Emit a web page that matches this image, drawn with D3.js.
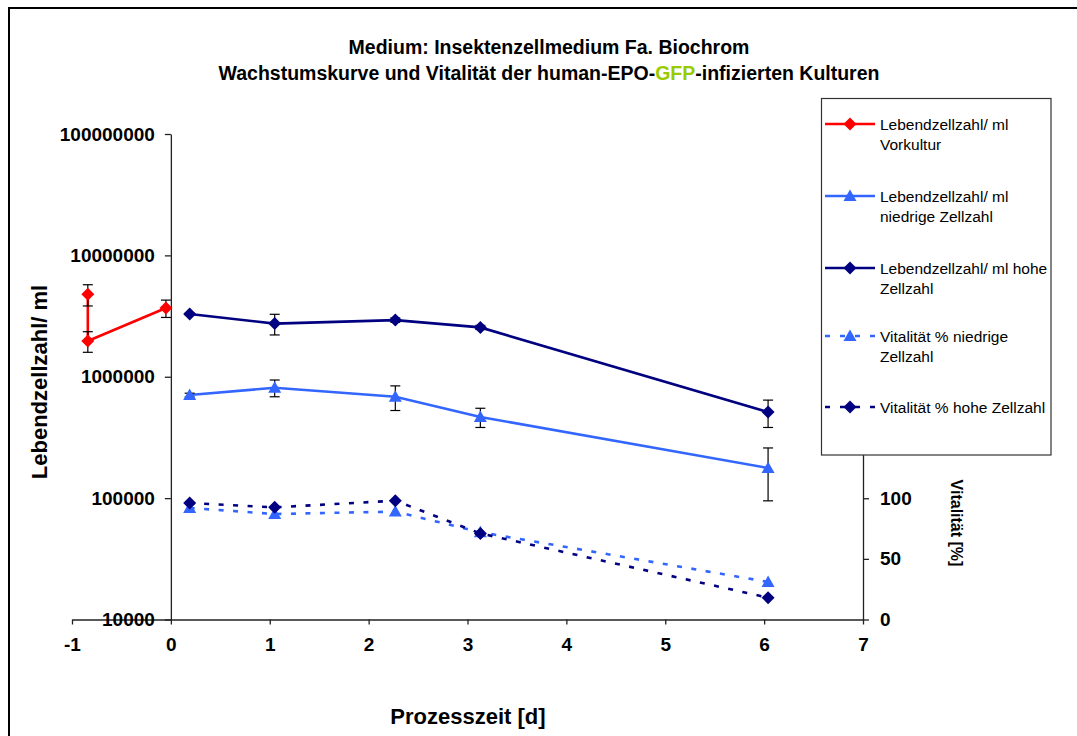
<!DOCTYPE html>
<html>
<head>
<meta charset="utf-8">
<script src="https://d3js.org/d3.v7.min.js"></script>
<style>
  body { margin: 0; background: #fff; }
  text { font-family: "Liberation Sans", Arial, sans-serif; }
</style>
</head>
<body>
<svg id="chart" width="1077" height="736"></svg>
<script>
  // data
  var vorkulturTage = [-0.84, -0.84, -0.05];
  var vorkulturZellen = [4.78e6, 1.97e6, 3.68e6];
  var vorkulturFehler = [0.95e6, 0.38e6, 0.6e6];

  var tage = [0.19, 1.05, 2.27, 3.13, 6.04];
  var niedrigeZellen = [7.07e5, 8.12e5, 6.84e5, 4.66e5, 1.77e5];
  var niedrigeFehler = [0.25e5, 1.28e5, 1.57e5, 0.84e5, 0.82e5];
  var hoheZellen = [3.29e6, 2.74e6, 2.93e6, 2.55e6, 5.12e5];
  var hoheFehler = [0.05e6, 0.53e6, 0.12e6, 0.1e6, 1.3e5];
  var vitalNiedrig = [92, 87, 89, 72, 31];
  var vitalHoch = [96, 92.5, 98, 71, 18];

  var xTicks = [-1, 0, 1, 2, 3, 4, 5, 6, 7];
  var yTicks = [1e4, 1e5, 1e6, 1e7, 1e8];
  var y2Ticks = [0, 50, 100, 150, 200, 250, 300, 350, 400];
  var y2Labelled = [0, 50, 100]; // the rest sit behind the legend

  var legendLabels = [
    ["Lebendzellzahl/ ml", "Vorkultur"],
    ["Lebendzellzahl/ ml", "niedrige Zellzahl"],
    ["Lebendzellzahl/ ml hohe", "Zellzahl"],
    ["Vitalität % niedrige", "Zellzahl"],
    ["Vitalität % hohe Zellzahl"]
  ];

  var RED = "#ff0000", BLUE = "#3366ff", NAVY = "#000080";

  var svg = d3.select("#chart");

  var x = d3.scaleLinear().domain([-1, 7]).range([72, 863]);
  var y = d3.scaleLog().domain([1e4, 1e8]).range([619.5, 134]);
  var y2 = d3.scaleLinear().domain([0, 400]).range([619.5, 134.5]);

  // outer chart border (left and top only visible)
  svg.append("path")
    .attr("d", "M9,736 L9,8 L1077,8")
    .attr("fill", "none").attr("stroke", "#000").attr("stroke-width", 2);

  // title
  svg.append("text")
    .attr("x", 549).attr("y", 54)
    .attr("text-anchor", "middle")
    .attr("font-weight", "bold").attr("font-size", 19.5)
    .text("Medium: Insektenzellmedium Fa. Biochrom");
  var t2 = svg.append("text")
    .attr("x", 549).attr("y", 80)
    .attr("text-anchor", "middle")
    .attr("font-weight", "bold").attr("font-size", 19.5);
  t2.append("tspan").text("Wachstumskurve und Vitalität der human-EPO-");
  t2.append("tspan").attr("fill", "#99cc00").text("GFP");
  t2.append("tspan").text("-infizierten Kulturen");

  // axes
  var axisStyle = function(g) {
    g.select(".domain").attr("stroke", "#222").attr("stroke-width", 1.3);
    g.selectAll(".tick line").attr("stroke", "#222").attr("stroke-width", 1.3);
    g.selectAll(".tick text")
      .attr("font-family", "'Liberation Sans', Arial, sans-serif")
      .attr("font-weight", "bold")
      .attr("font-size", 19)
      .attr("fill", "#000");
  };
  var plain = function(d) { return String(d); };

  svg.append("g")
    .attr("transform", "translate(0," + y(1e4) + ")")
    .call(d3.axisBottom(x).tickValues(xTicks).tickSize(5).tickPadding(13).tickSizeOuter(0)
      .tickFormat(plain))
    .call(axisStyle);

  svg.append("g")
    .attr("transform", "translate(" + x(0) + ",0)")
    .call(d3.axisLeft(y).tickValues(yTicks).tickSize(6).tickPadding(10).tickSizeOuter(0)
      .tickFormat(plain))
    .call(axisStyle);

  svg.append("g")
    .attr("transform", "translate(" + x(7) + ",0)")
    .call(d3.axisRight(y2).tickValues(y2Ticks).tickSize(6).tickPadding(11).tickSizeOuter(0)
      .tickFormat(function(d) { return y2Labelled.indexOf(d) >= 0 ? String(d) : ""; }))
    .call(axisStyle);

  // axis titles
  svg.append("text")
    .attr("transform", "translate(47,382) rotate(-90)")
    .attr("text-anchor", "middle")
    .attr("font-weight", "bold").attr("font-size", 22)
    .text("Lebendzellzahl/ ml");

  svg.append("text")
    .attr("x", 468).attr("y", 724)
    .attr("text-anchor", "middle")
    .attr("font-weight", "bold").attr("font-size", 22)
    .text("Prozesszeit [d]");

  svg.append("text")
    .attr("transform", "translate(951,523) rotate(90)")
    .attr("text-anchor", "middle")
    .attr("font-weight", "bold").attr("font-size", 16)
    .text("Vitalität [%]");

  // marker shapes like the spreadsheet markers
  var diamond = function() { return "M0,-6.5L6.5,0L0,6.5L-6.5,0Z"; };
  var triangle = function() { return "M0,-6.5L6.5,5L-6.5,5Z"; };

  function drawSeries(xs, ys, errs, yScale, color, sym, dash) {
    var pts = xs.map(function(d, i) { return { x: d, y: ys[i], e: errs ? errs[i] : 0 }; });
    var line = d3.line().x(function(d) { return x(d.x); }).y(function(d) { return yScale(d.y); });
    var g = svg.append("g");
    g.append("path")
      .attr("d", line(pts))
      .attr("fill", "none")
      .attr("stroke", color)
      .attr("stroke-width", 2.6)
      .attr("stroke-dasharray", dash || null);
    if (errs) {
      var eb = g.selectAll(".err").data(pts).enter().append("g");
      eb.append("line")
        .attr("x1", function(d) { return x(d.x); })
        .attr("x2", function(d) { return x(d.x); })
        .attr("y1", function(d) { return yScale(d.y + d.e); })
        .attr("y2", function(d) { return yScale(d.y - d.e); });
      [1, -1].forEach(function(s) {
        eb.append("line")
          .attr("x1", function(d) { return x(d.x) - 5; })
          .attr("x2", function(d) { return x(d.x) + 5; })
          .attr("y1", function(d) { return yScale(d.y + s * d.e); })
          .attr("y2", function(d) { return yScale(d.y + s * d.e); });
      });
      eb.selectAll("line").attr("stroke", "#000").attr("stroke-width", 1.2);
    }
    g.selectAll(".mk").data(pts).enter().append("path")
      .attr("d", sym)
      .attr("transform", function(d) {
        return "translate(" + x(d.x) + "," + yScale(d.y) + ")";
      })
      .attr("fill", color);
  }

  drawSeries(vorkulturTage, vorkulturZellen, vorkulturFehler, y, RED, diamond);
  drawSeries(tage, niedrigeZellen, niedrigeFehler, y, BLUE, triangle);
  drawSeries(tage, hoheZellen, hoheFehler, y, NAVY, diamond);
  drawSeries(tage, vitalNiedrig, null, y2, BLUE, triangle, "5,9.5");
  drawSeries(tage, vitalHoch, null, y2, NAVY, diamond, "5,9.5");

  // legend
  var legendStyles = [
    { c: RED, s: diamond, d: null },
    { c: BLUE, s: triangle, d: null },
    { c: NAVY, s: diamond, d: null },
    { c: BLUE, s: triangle, d: "5,10" },
    { c: NAVY, s: diamond, d: "5,10" }
  ];
  var legendY = [124, 196, 268, 336, 407];

  svg.append("rect")
    .attr("x", 821.5).attr("y", 98.5).attr("width", 229.5).attr("height", 356.5)
    .attr("fill", "#fff").attr("stroke", "#333").attr("stroke-width", 1.2);

  var item = svg.selectAll(".leg").data(legendLabels).enter().append("g")
    .attr("transform", function(d, i) { return "translate(0," + legendY[i] + ")"; });
  item.append("line")
    .attr("x1", 825).attr("x2", 875).attr("y1", 0).attr("y2", 0)
    .attr("stroke", function(d, i) { return legendStyles[i].c; })
    .attr("stroke-width", 2.6)
    .attr("stroke-dasharray", function(d, i) { return legendStyles[i].d; });
  item.append("path")
    .attr("d", function(d, i) { return legendStyles[i].s(); })
    .attr("transform", "translate(850,0)")
    .attr("fill", function(d, i) { return legendStyles[i].c; });
  item.selectAll(".lt").data(function(d) { return d; }).enter().append("text")
    .attr("font-size", 15.5)
    .attr("x", 880)
    .attr("y", function(d, j) { return j * 20 + 5.5; })
    .text(function(d) { return d; });
</script>
</body>
</html>
